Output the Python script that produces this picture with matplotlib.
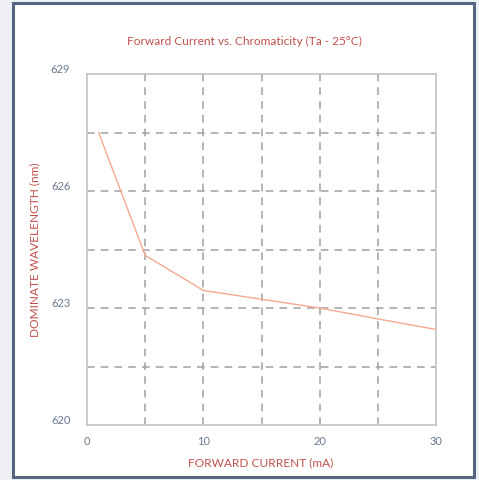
import matplotlib.pyplot as plt
from matplotlib.patches import Rectangle

# data
current = [1, 5, 10, 20, 25, 30]
wavelength = [627.5, 624.35, 623.45, 623.0, 622.72, 622.45]
x_ticks = [0, 10, 20, 30]
y_ticks = [620, 623, 626, 629]
x_grid = [5, 10, 15, 20, 25]
y_grid = [621.5, 623, 624.5, 626, 627.5]

red = '#c0504d'
tick_col = '#6a7890'

plt.rcParams['font.family'] = ['Lato', 'DejaVu Sans']

fig = plt.figure(figsize=(4.79, 4.81), dpi=100)
fig.patch.set_facecolor('#eef0f4')
# white panel with dark frame
fig.patches.append(Rectangle((13 / 479, 3 / 481), 461 / 479, 474 / 481,
                             transform=fig.transFigure, facecolor='white',
                             edgecolor='#56657f', linewidth=2.2, zorder=-1))

ax = fig.add_axes([87 / 479, 1 - 426 / 481, 349 / 479, 351 / 481])
ax.set_zorder(2)
ax.set_facecolor('none')
ax.set_xlim(0, 30)
ax.set_ylim(620, 629)

for gx in x_grid:
    ax.axvline(gx, color='#a0a0a0', linestyle=(0, (5, 4)), linewidth=1.1, zorder=1)
for gy in y_grid:
    ax.axhline(gy, color='#a0a0a0', linestyle=(0, (5, 4)), linewidth=1.1, zorder=1)

ax.plot(current, wavelength, color='#f6a890', linewidth=1.0, zorder=3)

ax.set_xticks(x_ticks)
ax.set_yticks(y_ticks)
ax.tick_params(length=0, colors=tick_col, labelsize=8)
ax.tick_params(axis='x', pad=7)
ax.tick_params(axis='y', pad=12)
for lab in ax.get_yticklabels():
    lab.set_verticalalignment('bottom')
for s in ax.spines.values():
    s.set_color('#c4c4c4')
    s.set_linewidth(1.2)

fig.text(244 / 479, 1 - 41 / 481, 'Forward Current vs. Chromaticity (Ta - 25°C)',
         ha='center', va='center', color=red, fontsize=8.6)
fig.text(261 / 479, 1 - 463 / 481, 'FORWARD CURRENT (mA)',
         ha='center', va='center', color=red, fontsize=8.6)
fig.text(35 / 479, 1 - 250 / 481, 'DOMINATE WAVELENGTH (nm)', rotation=90,
         ha='center', va='center', color=red, fontsize=8.6)

fig.savefig('out.png', dpi=100)
